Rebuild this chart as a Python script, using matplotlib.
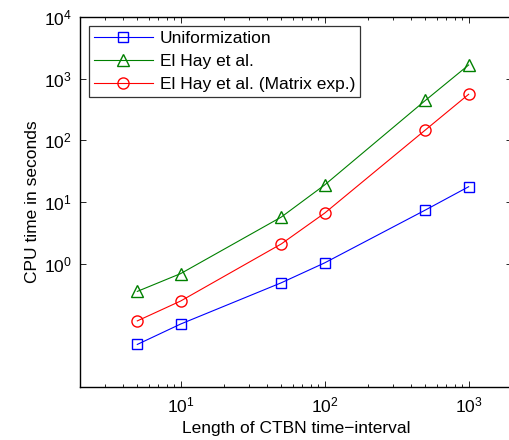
import numpy as np
import matplotlib
matplotlib.use("Agg")
from matplotlib import pyplot as plt
from matplotlib.ticker import FixedLocator, LogLocator, NullLocator, NullFormatter

plt.rcParams['font.family'] = ['Liberation Sans', 'DejaVu Sans']
plt.rcParams['mathtext.fontset'] = 'custom'
plt.rcParams['mathtext.rm'] = 'Liberation Sans'
plt.rcParams['mathtext.it'] = 'Liberation Sans'

lengths = [5, 10, 50, 100, 500, 1000]
uniformization = [0.049, 0.105, 0.49, 1.03, 7.4, 17.7]
elhay = [0.355, 0.69, 5.7, 18.9, 443, 1667]
elhay_matrix = [0.118, 0.248, 2.09, 6.6, 147, 558]
labels = ['Uniformization', 'El Hay et al.', 'El Hay et al. (Matrix exp.)']
yticks = [1, 10, 100, 1000, 10000]

FS = 12.5


def main():
    fig = plt.figure(figsize=(5.1, 4.4), dpi=100)
    ax = fig.add_axes([80 / 510, 53 / 440, 432 / 510, 370 / 440])

    ax.plot(lengths, uniformization, color=(0, 0, 1), lw=0.8, marker='s',
            ms=7, mfc='none', mew=1.0, label=labels[0])
    ax.plot(lengths, elhay, color=(0, 0.5, 0), lw=0.8, marker='^',
            ms=8.5, mfc='none', mew=1.0, label=labels[1])
    ax.plot(lengths, elhay_matrix, color=(1, 0, 0), lw=0.8, marker='o',
            ms=8, mfc='none', mew=1.0, label=labels[2])

    ax.set_xscale('log')
    ax.set_yscale('log')
    ax.set_xlim(2, 2000)
    ax.set_ylim(1e-2, 1e4)

    ax.xaxis.set_major_locator(FixedLocator([10, 100, 1000]))
    ax.xaxis.set_minor_locator(LogLocator(base=10, subs=np.arange(2, 10)))
    ax.xaxis.set_minor_formatter(NullFormatter())
    ax.set_xticklabels([r'$10^{1}$', r'$10^{2}$', r'$10^{3}$'])
    ax.yaxis.set_major_locator(FixedLocator(yticks))
    ax.yaxis.set_minor_locator(NullLocator())
    ax.set_yticklabels([r'$10^{%d}$' % int(np.log10(v)) for v in yticks])

    ax.tick_params(which='both', direction='in', top=True, right=True,
                   labelsize=FS, width=0.6)
    ax.tick_params(which='major', length=4, pad=6)
    ax.tick_params(which='minor', length=2.5)
    for s in ax.spines.values():
        s.set_linewidth(1.0)

    ax.set_xlabel('Length of CTBN time\u2212interval', fontsize=FS, labelpad=4)
    ax.set_ylabel('CPU time in seconds', fontsize=FS, labelpad=3)

    leg = ax.legend(loc='upper left', fontsize=FS, frameon=True, fancybox=False,
                    edgecolor='black', handlelength=3.4, handletextpad=0.4,
                    borderaxespad=0.5, labelspacing=0.45, borderpad=0.3)
    leg.get_frame().set_linewidth(0.9)

    fig.savefig('out.png', dpi=100)


if __name__ == "__main__":
    main()
